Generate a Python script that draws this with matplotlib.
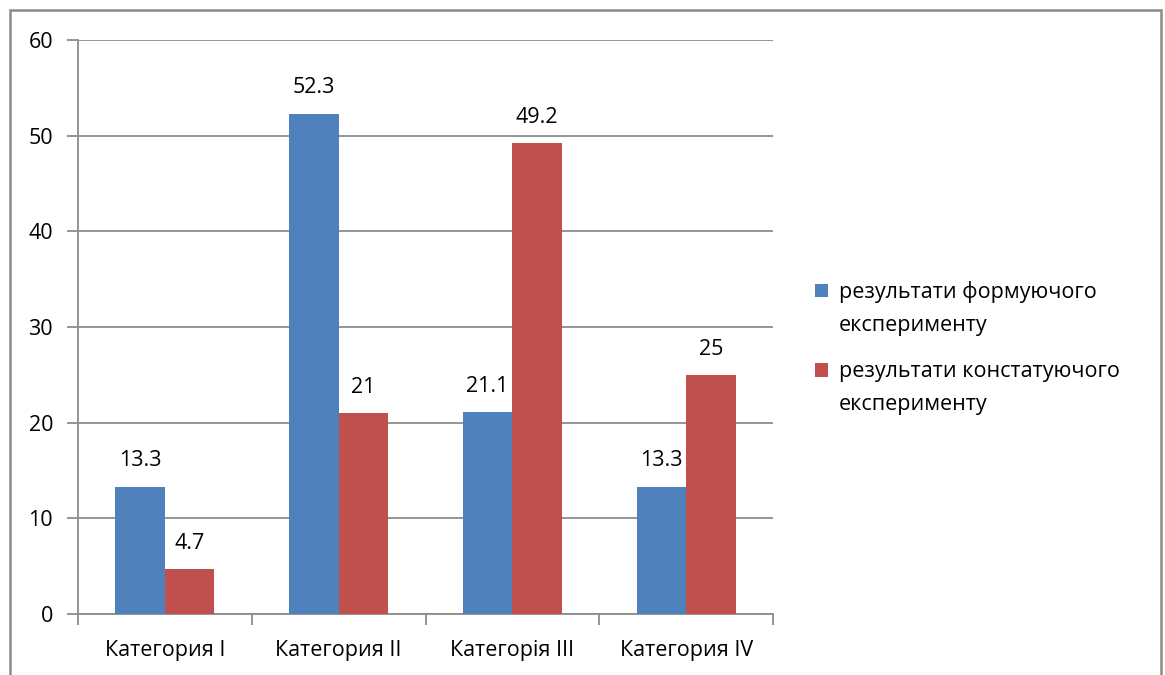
import matplotlib.pyplot as plt
from matplotlib.patches import Rectangle
import numpy as np

plt.rcParams['font.family'] = ['Open Sans', 'DejaVu Sans']

categories = ['Категория I', 'Категория II', 'Категорія III', 'Категория IV']
formuiuchyi = [13.3, 52.3, 21.1, 13.3]
konstatuiuchyi = [4.7, 21, 49.2, 25]
labels = ['результати формуючого\nексперименту', 'результати констатуючого\nексперименту']

blue = '#4F81BD'
red = '#C0504D'
grid_c = '#8C8C8C'
fs = 15.5

fig = plt.figure(figsize=(11.65, 6.75), dpi=100)
ax = fig.add_axes([78 / 1165, 1 - 614 / 675, (773 - 78) / 1165, (614 - 40) / 675])

# outer chart border
fig.patches.append(Rectangle((10 / 1165, -0.05), 1151 / 1165, 1 - 10 / 675 + 0.05,
                             transform=fig.transFigure, fill=False,
                             edgecolor='#8A8A8A', linewidth=1.8))

x = np.arange(len(categories))
w = 0.285
b1 = ax.bar(x - w / 2, formuiuchyi, w, color=blue, label=labels[0], zorder=3)
b2 = ax.bar(x + w / 2, konstatuiuchyi, w, color=red, label=labels[1], zorder=3)

for bars, vals in [(b1, formuiuchyi), (b2, konstatuiuchyi)]:
    for r, v in zip(bars, vals):
        ax.annotate(f'{v:g}', (r.get_x() + r.get_width() / 2, v),
                    xytext=(0, 11), textcoords='offset points',
                    ha='center', va='bottom', fontsize=fs)

ax.set_xlim(-0.5, 3.5)
ax.set_ylim(0, 60)
ax.set_yticks(range(0, 61, 10))
ax.yaxis.grid(True, color=grid_c, linewidth=1.3, zorder=0)
ax.set_axisbelow(True)

ax.set_xticks(x)
ax.set_xticklabels(categories, fontsize=fs)
ax.tick_params(axis='x', length=0, pad=19)
ax.set_xticks(np.arange(-0.5, 4, 1), minor=True)
ax.tick_params(axis='x', which='minor', length=8, color=grid_c, width=1.3)
ax.tick_params(axis='y', length=8, color=grid_c, width=1.3, labelsize=fs, pad=10)

for s in ['top', 'right']:
    ax.spines[s].set_visible(False)
for s in ['left', 'bottom']:
    ax.spines[s].set_color(grid_c)
    ax.spines[s].set_linewidth(1.3)

leg = fig.legend(handles=[b1, b2], loc='center left', bbox_to_anchor=(796 / 1165, 1 - 348 / 675),
                 frameon=False, fontsize=fs, handlelength=0.6, handleheight=0.6,
                 handletextpad=0.5, labelspacing=1.2)
for t in leg.get_texts():
    t.set_linespacing(1.7)
# put the square next to the first line of each label, like Excel does
for h in leg.legend_handles:
    h.set_y(h.get_y() + 0.85 * fs)

fig.savefig('out.png', dpi=100)
